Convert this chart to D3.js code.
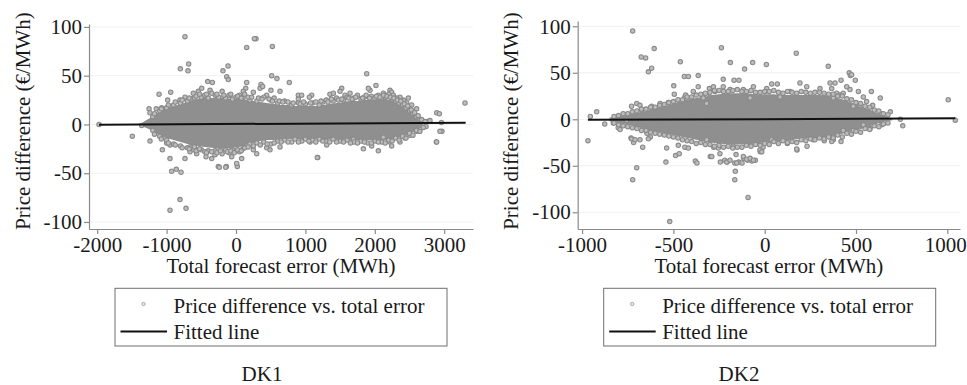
<!DOCTYPE html>
<html>
<head>
<meta charset="utf-8">
<script src="https://cdn.jsdelivr.net/npm/d3@7"></script>
<style>
  html, body { margin: 0; padding: 0; background: #fff; }
  svg { display: block; font-family: "Liberation Serif", "Times New Roman", serif; }
</style>
</head>
<body>
<svg id="chart" width="967" height="385"></svg>
<script>
// ---- Ticks ----
const dk1TicksX = [-2000, -1000, 0, 1000, 2000, 3000];
const dk2TicksX = [-1000, -500, 0, 500, 1000];
const ticksY = [-100, -50, 0, 50, 100];

// ---- DK1: dense band of observations (upper / lower edge by total error) ----
const dk1CoreX  = [-1350,-1250,-1150,-1050,-950,-850,-750,-650,-550,-450,-350,-250,-150,-50,50,150,250,350,450,550,650,750,850,950,1050,1150,1250,1350,1450,1550,1650,1750,1850,1950,2050,2150,2250,2350,2450,2550,2650,2700];
const dk1CoreHi = [2,6,11,15,18,20,22,24,26,27,27,28,27,26,26,25,24,23,22,21,20,20,19,19,19,19,20,21,22,23,24,24,25,25,26,26,24,21,16,10,5,2];
const dk1CoreLo = [-2,-5,-9,-13,-15,-17,-19,-21,-22,-23,-24,-25,-25,-24,-23,-21,-19,-17,-16,-16,-15,-15,-15,-15,-15,-15,-15,-15,-15,-15,-16,-16,-16,-16,-16,-16,-15,-13,-11,-8,-4,-2];

// ---- DK1: individual observations (total error MWh, price difference €/MWh) ----
const dk1Points = [
  [-735,90],[288,88],[265,88],[154,79],[524,80],[-682,62],[-802,57],[-692,55],[-115,60],[-188,55],
  [-134,49],[-111,46],[514,50],[590,47],[768,43],[1883,52],[3300,22],[2892,12],[2930,11],[2960,2],
  [2968,-7],[2887,-18],[1177,-34],[-735,-35],[-927,-48],[-860,-46],[-792,-49],[-807,-77],[-951,-88],[-720,-86],
  [-255,-43],[-139,-43],[19,-43],[10,-40],[-1974,0],[-1494,-12],[-1239,-17],[-1061,-26],[-1109,31],[-941,33],
  [-1253,16],[-985,25],[-638,26],[-1239,12],[-1148,16],[-1071,17],[-1359,-1],[-951,-35],[-663,-28],[-610,-26],
  [-566,-30],[-432,-33],[-350,-35],[-303,-31],[-240,-44],[-148,-44],[-408,44],[-341,43],[-374,35],[-615,32],
  [-543,34],[-494,37],[-807,25],[-735,28],[-999,-19],[-951,-21],[-663,-23],
  [154,43],[360,41],[140,37],[105,34],[346,37],[384,39],[504,35],[634,34],[442,30],[898,30],
  [946,30],[1090,30],[1057,28],[898,26],[1354,31],[1403,32],[1571,30],[1523,37],[1499,34],[1643,32],
  [-62,-33],[82,-35],[250,-26],[298,-30],[442,-24],[490,-26],[634,-23],[1172,-34],[802,-18],[1066,-18],
  [1474,-16],[1571,-16],[1690,-16],[1307,-21],
  [2017,40],[1931,35],[1907,37],[2219,35],[2243,33],[2267,30],[2123,32],[2363,28],[2411,25],[2459,22],
  [2531,20],[2603,16],[2483,27],[2315,27],[2762,3],[2795,4],[2939,-7],[2891,-18],[2642,-7],[2738,-2],
  [1690,-15],[1835,-25],[1955,-22],[2051,-27],[2219,-18],[2363,-18],[2435,-14],[2507,-11],[2603,-7],[2123,-13],[2243,-22],
  [-1200,8],[-1100,14],[-1000,17],[-900,20],[-800,22],[-700,24],[-600,27],[-500,28],[-450,30],[-400,27],
  [-300,30],[-250,28],[-200,34],[-150,27],[-100,30],[-50,26],[0,28],[50,30],[100,27],[200,25],
  [250,33],[300,24],[400,28],[500,25],[550,27],[600,22],[700,24],[800,20],[900,22],[1000,21],
  [1100,22],[1200,20],[1250,23],[1300,25],[1400,24],[1450,27],[1550,25],[1600,28],[1700,27],[1750,30],
  [1800,26],[1850,28],[1950,29],[2000,27],[2050,30],[2100,27],[2150,28],[2200,31],[2250,26],[2300,24],
  [2350,22],[2400,20],[2450,17],[2500,14],[2550,11],[2600,8],[2650,5],
  [-1200,-6],[-1100,-12],[-1000,-16],[-900,-20],[-800,-22],[-700,-24],[-600,-23],[-500,-26],[-450,-28],[-400,-27],
  [-300,-27],[-200,-30],[-150,-26],[-100,-29],[-50,-26],[50,-28],[100,-25],[150,-22],[200,-20],[300,-19],
  [400,-18],[500,-20],[600,-17],[700,-16],[850,-15],[950,-17],[1000,-15],[1100,-16],[1200,-15],[1300,-17],
  [1400,-15],[1500,-17],[1600,-16],[1700,-18],[1800,-17],[1900,-19],[2000,-17],[2100,-18],[2200,-16],[2300,-14],
  [2400,-12],[2500,-9],[2600,-6],[2700,-3],
  [-1175,11],[-1075,16],[-975,20],[-875,23],[-775,25],[-675,27],[-575,29],[-525,31],[-425,31],[-350,32],
  [-275,31],[-175,30],[-75,31],[25,29],[75,27],[125,31],[175,28],[225,28],[325,27],[375,26],
  [475,26],[525,24],[625,24],[675,23],[750,23],[825,22],[925,21],[975,23],[1075,22],[1150,23],
  [1225,24],[1325,23],[1375,26],[1475,25],[1525,26],[1625,27],[1675,26],[1725,28],[1825,27],[1875,30],
  [1925,27],[2025,29],[2075,28],[2125,30],[2175,29],[2225,28],[2275,27],[2325,25],[2375,24],[2425,21],
  [2475,19],[2525,15],[2575,12],[2625,9],[2675,5],[2725,3],
  [-1175,-10],[-1075,-15],[-975,-19],[-875,-21],[-775,-24],[-675,-25],[-575,-27],[-525,-25],[-425,-29],[-350,-28],
  [-275,-29],[-225,-27],[-125,-28],[-75,-27],[-25,-29],[25,-26],[75,-27],[125,-24],[175,-23],[250,-22],
  [350,-21],[450,-20],[550,-19],[650,-18],[750,-18],[900,-18],[1050,-17],[1150,-18],[1250,-17],[1350,-18],
  [1450,-18],[1550,-18],[1650,-19],[1750,-19],[1850,-18],[1950,-19],[2050,-18],[2150,-19],[2250,-17],[2350,-16],
  [2450,-14],[2550,-11],[2650,-7]
];
const dk1FitX = [-1974, 3309];
const dk1FitY = [-0.3, 1.8];

// ---- DK2: dense band of observations ----
const dk2CoreX  = [-850,-800,-750,-700,-650,-600,-550,-500,-450,-400,-350,-300,-250,-200,-150,-100,-50,0,50,100,150,200,250,300,350,400,450,500,550,600,650,700];
const dk2CoreHi = [2,3,5,7,9,12,14,17,20,22,24,26,27,28,28,28,27,27,27,26,26,26,26,26,25,23,20,16,12,8,4,1];
const dk2CoreLo = [-2,-4,-6,-8,-11,-13,-15,-17,-19,-21,-23,-25,-26,-27,-27,-27,-26,-25,-24,-23,-22,-21,-20,-20,-19,-17,-14,-12,-9,-6,-3,-1];

// ---- DK2: individual observations ----
const dk2Points = [
  [-723,95],[-605,76],[-676,67],[-652,66],[-637,51],[-619,55],[-462,62],[-440,46],[-418,46],[-364,47],
  [-498,36],[-237,77],[-188,61],[-66,61],[-110,54],[9,59],[-168,42],[-141,42],[173,71],[348,57],
  [463,50],[469,47],[496,42],[418,42],[584,30],[633,23],[1005,21],[1044,-1],[756,-7],[743,0],
  [688,8],[-968,-23],[-920,8],[-955,3],[-876,-5],[-723,-65],[-701,-52],[-732,-20],[-718,-25],[-668,-30],
  [-645,-15],[-626,-19],[-541,-46],[-488,-39],[-468,-37],[-380,-45],[-371,-47],[-520,-110],[-298,-40],[-279,-30],
  [-243,-46],[-219,-44],[-206,-46],[-164,-47],[-142,-46],[-124,-47],[-161,-56],[-164,-65],[-91,-84],[-115,-42],
  [-93,-44],[-70,-45],[-51,-44],[-24,-35],[-9,-30],[177,-33],[232,-29],[326,-23],[418,-24],
  [-829,-4],[-802,-9],[-792,-11],[-765,-6],[-756,-1],[-729,14],[-701,17],[-683,15],[-674,10],[-619,14],
  [-573,17],[-528,18],[-729,-21],[-710,-22],[-683,-22],[-637,-21],[-537,-31],[-473,-28],[-437,-30],[-418,-31],
  [-495,27],[-437,24],[-433,26],[-391,30],[-364,35],[-303,33],[-336,23],[-318,17],
  [-227,43],[-281,35],[-62,35],[11,33],[38,38],[69,38],[2,30],[84,24],[193,39],[230,35],
  [303,33],[358,39],[385,39],[394,28],[-272,30],[-227,35],[-190,32],[-117,32],[-318,26],[139,30],[-80,23],
  [-318,-22],[-290,-40],[-254,-31],[-245,-37],[-208,-46],[-190,-44],[-172,-29],[-157,-38],[-153,-47],[-117,-40],
  [-99,-43],[-80,-42],[-62,-44],[-26,-33],[-16,-35],[38,-22],[124,-26],[175,-32],[266,-22],[376,-22],
  [476,48],[449,35],[467,32],[513,30],[367,33],[591,15],[641,6],[412,26],[430,28],[540,24],
  [558,19],[522,15],[485,14],[376,23],
  [367,-24],[376,-19],[430,-12],[485,-12],[577,-10],[641,-6],[540,-6],
  [-800,4],[-750,6],[-700,9],[-650,11],[-600,13],[-550,16],[-500,19],[-450,21],[-400,24],[-350,27],
  [-300,29],[-250,31],[-200,30],[-150,32],[-100,30],[-50,29],[0,30],[50,31],[100,28],[150,29],
  [200,30],[250,28],[300,29],[350,27],[400,25],[450,22],[500,18],[550,14],[600,10],[650,6],
  [-800,-6],[-750,-8],[-700,-10],[-650,-12],[-600,-15],[-550,-17],[-500,-19],[-450,-22],[-400,-24],[-350,-25],
  [-300,-27],[-250,-28],[-200,-29],[-150,-30],[-100,-28],[-50,-27],[0,-26],[50,-24],[100,-23],[150,-24],
  [200,-22],[250,-21],[300,-20],[350,-19],[400,-17],[450,-15],[500,-13],[550,-10],[600,-7],[650,-5],
  [-825,3],[-775,6],[-725,8],[-675,11],[-625,13],[-575,15],[-525,18],[-475,21],[-425,24],[-375,26],
  [-325,28],[-275,31],[-225,30],[-175,31],[-125,30],[-75,31],[-25,29],[25,30],[75,29],[125,30],
  [175,28],[225,29],[275,29],[325,28],[375,27],[425,25],[475,21],[525,17],[575,13],[625,9],[675,5],
  [-825,-4],[-775,-7],[-725,-9],[-675,-12],[-625,-14],[-575,-16],[-525,-18],[-475,-20],[-425,-23],[-375,-26],
  [-325,-27],[-275,-29],[-225,-30],[-175,-31],[-125,-30],[-75,-29],[-25,-28],[25,-27],[75,-26],[125,-25],
  [175,-25],[225,-23],[275,-22],[325,-21],[375,-20],[425,-19],[475,-16],[525,-14],[575,-11],[625,-8],[675,-4]
];
const dk2FitX = [-968, 1044];
const dk2FitY = [-0.6, 1.0];

const legendLabels = ["Price difference vs. total error", "Fitted line"];
const xTitle = "Total forecast error (MWh)";
const yTitle = "Price difference (€/MWh)";

// ---- Styling ----
const FONT = 21;
const SERIF = "'Liberation Serif', 'Times New Roman', serif";
const AXIS_GREY = "#8a8a8a";
const POINT_STROKE = "#8a8a8a";
const POINT_FILL = "#bdbdbd";
const CORE_FILL = "#8f8f8f";
const GRID = "#f1f1f1";
const TEXT = "#1a1a1a";

const svg = d3.select("#chart");

function drawPanel(p) {
  const x = d3.scaleLinear().domain(p.xDomain).range(p.xRange);
  const y = d3.scaleLinear().domain(p.yDomain).range(p.yRange);
  const g = svg.append("g");

  // horizontal grid at each y tick
  g.append("g").selectAll("line").data(p.yTicks).join("line")
    .attr("x1", p.xRange[0]).attr("x2", p.xRange[1])
    .attr("y1", d => y(d)).attr("y2", d => y(d))
    .attr("stroke", GRID).attr("stroke-width", 1);

  // dense band
  const band = p.coreX.map((v, i) => ({x: v, hi: p.coreHi[i], lo: p.coreLo[i]}));
  g.append("path").datum(band)
    .attr("fill", CORE_FILL)
    .attr("d", d3.area().x(d => x(d.x)).y0(d => y(d.lo)).y1(d => y(d.hi)).curve(d3.curveMonotoneX));

  // scatter
  g.append("g").selectAll("circle").data(p.points).join("circle")
    .attr("cx", d => x(d[0])).attr("cy", d => y(d[1])).attr("r", 2.2)
    .attr("fill", POINT_FILL).attr("stroke", POINT_STROKE).attr("stroke-width", 1.1);

  // fitted line
  g.append("path")
    .datum(p.fitX.map((v, i) => [v, p.fitY[i]]))
    .attr("fill", "none").attr("stroke", "#111").attr("stroke-width", 2)
    .attr("d", d3.line().x(d => x(d[0])).y(d => y(d[1])));

  // axes
  const ax = g.append("g").attr("transform", `translate(0,${p.yRange[0]})`)
    .call(d3.axisBottom(x).tickValues(p.xTicks).tickFormat(d3.format("d")).tickSize(5).tickSizeOuter(0).tickPadding(3));
  const ay = g.append("g").attr("transform", `translate(${p.xRange[0]},0)`)
    .call(d3.axisLeft(y).tickValues(p.yTicks).tickFormat(d3.format("d")).tickSize(5).tickSizeOuter(0).tickPadding(2));
  [ax, ay].forEach(a => {
    a.attr("font-family", SERIF).attr("font-size", FONT);
    a.select(".domain").attr("stroke", AXIS_GREY).attr("stroke-width", 1.2);
    a.selectAll(".tick line").attr("stroke", AXIS_GREY).attr("stroke-width", 1.2);
    a.selectAll(".tick text").attr("fill", TEXT).text(d => String(d));
  });
  // keep the outermost label inside the canvas
  ax.selectAll(".tick text").attr("dx", d => (x(d) + 22 > 967 ? -2 : 0));

  // axis titles
  g.append("text").attr("x", (p.xRange[0] + p.xRange[1]) / 2).attr("y", 273)
    .attr("text-anchor", "middle").attr("fill", TEXT).style("font-size", FONT + "px").text(xTitle);
  g.append("text").attr("transform", `translate(${p.yTitleX},121) rotate(-90)`)
    .attr("text-anchor", "middle").attr("fill", TEXT).style("font-size", FONT + "px").text(yTitle);

  // legend
  const L = p.legend;
  g.append("rect").attr("x", L.x).attr("y", 288.3).attr("width", 332).attr("height", 57.7)
    .attr("fill", "#fff").attr("stroke", "#6f6f6f").attr("stroke-width", 1);
  g.append("circle").attr("cx", L.x + 28.5).attr("cy", 304).attr("r", 1.7)
    .attr("fill", "#e2e2e2").attr("stroke", "#a8a8a8").attr("stroke-width", 0.9);
  g.append("line").attr("x1", L.x + 5.5).attr("x2", L.x + 52).attr("y1", 331.5).attr("y2", 331.5)
    .attr("stroke", "#111").attr("stroke-width", 2);
  g.append("text").attr("x", L.x + 58.5).attr("y", 312.5).attr("fill", TEXT)
    .style("font-size", FONT + "px").text(legendLabels[0]);
  g.append("text").attr("x", L.x + 58.5).attr("y", 339).attr("fill", TEXT)
    .style("font-size", FONT + "px").text(legendLabels[1]);

  // panel caption
  g.append("text").attr("x", p.captionX).attr("y", 380.5).attr("text-anchor", "middle")
    .attr("fill", TEXT).style("font-size", FONT + "px").text(p.caption);
}

drawPanel({
  xDomain: [-2118, 3415], xRange: [89, 473],
  yDomain: [-107.2, 103], yRange: [229, 24],
  xTicks: dk1TicksX, yTicks: ticksY,
  coreX: dk1CoreX, coreHi: dk1CoreHi, coreLo: dk1CoreLo,
  points: dk1Points, fitX: dk1FitX, fitY: dk1FitY,
  yTitleX: 30, legend: {x: 115}, caption: "DK1", captionX: 262
});

drawPanel({
  xDomain: [-1024, 1069.5], xRange: [577.7, 960],
  yDomain: [-118, 105.7], yRange: [229, 21],
  xTicks: dk2TicksX, yTicks: ticksY,
  coreX: dk2CoreX, coreHi: dk2CoreHi, coreLo: dk2CoreLo,
  points: dk2Points, fitX: dk2FitX, fitY: dk2FitY,
  yTitleX: 518, legend: {x: 603.7}, caption: "DK2", captionX: 739
});
</script>
</body>
</html>
